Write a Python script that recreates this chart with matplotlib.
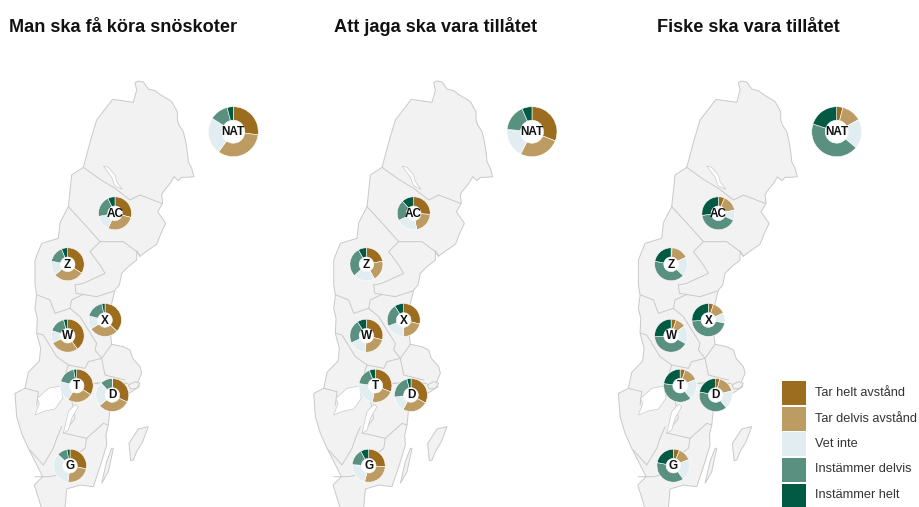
import numpy as np
import matplotlib
matplotlib.use('Agg')
import matplotlib.pyplot as plt
from matplotlib.patches import Polygon, Rectangle

plt.rcParams['font.family'] = ['Liberation Sans', 'DejaVu Sans']

titles = ['Man ska få köra snöskoter', 'Att jaga ska vara tillåtet', 'Fiske ska vara tillåtet']
title_x = [9, 334, 657]
categories = ['Tar helt avstånd', 'Tar delvis avstånd', 'Vet inte', 'Instämmer delvis', 'Instämmer helt']
colors = ['#9c6d1e', '#bd9c63', '#e2edf1', '#5a9080', '#035a44']
regions = ['NAT', 'AC', 'Z', 'X', 'W', 'T', 'D', 'G']

snoskoter = [[27, 33, 24, 12, 4], [29, 28, 15, 21, 7], [34, 30, 14, 16, 6], [37, 29, 13, 18, 3],
             [40, 28, 12, 16, 4], [34, 25, 20, 18, 3], [32, 32, 24, 12, 0], [28, 24, 35, 10, 3]]
jaga = [[31, 26.5, 19, 17, 6.5], [26, 21, 21, 20, 12], [22, 20, 21, 29, 8], [29, 21, 19, 22, 9],
        [29, 22, 17, 23, 9], [31, 22, 24, 17, 6], [33, 25, 15, 23, 4], [26, 28, 22, 16, 8]]
fiske = [[4, 13, 19, 44, 20], [6, 16, 10, 41, 27], [1, 17, 19, 41, 22], [5, 13, 10, 46, 26],
         [5, 10, 18, 41, 26], [5, 14, 20, 38, 23], [4, 17, 18, 39, 22], [6, 13, 21, 38, 22]]
panels = [snoskoter, jaga, fiske]

# donut centres in panel 1, image pixels
center_x = [233.3, 115, 67.7, 105, 67.7, 76.7, 112.3, 70]
center_y = [131.7, 213.3, 264.3, 320, 335.7, 385.7, 395, 465.7]
panel_dx = [0, 298.7, 603.4]

def t(pts):
    a = np.array(pts, float); return np.c_[a[:, 0] / 3, 60 + a[:, 1] / 3]
def b(pts):
    a = np.array(pts, float); return np.c_[a[:, 0] / 3, 285 + a[:, 1] / 3]

outline = np.vstack([
    t([(405,68),(415,63),(430,66),(445,87),(465,92),(482,105),(500,115),(515,125),(532,155),(532,180),
       (537,195),(550,215),(556,240),(560,262),(563,285),(565,305),(575,325),(582,350),(560,352),(545,352),
       (535,362),(522,350),(512,368),(490,395),(485,405),(488,430),(473,455),(497,490),(483,520),(470,553),
       (445,570),(420,588),(410,572),(410,600),(385,620),(365,640),(358,675)]),
    b([(345,15),(335,55),(335,85),(330,135),(335,178),(370,185),(390,195),(398,220),(420,245),(425,265),
       (412,295),(418,305),(395,320),(350,345),(330,370),(325,420),(318,450),(320,480),(305,530),(295,560),
       (280,605),(240,600),(200,612),(195,670),(125,670),(103,600),(128,575),(108,535),(85,490),(65,445),(50,395),
       (45,325),(75,310),(85,262),(118,228),(122,190),(110,145),(112,100),(105,70),(110,30)]),
    t([(105,675),(105,600),(125,550),(175,535),(180,488),(205,440),(215,345),(250,322),(272,240),(290,180),
       (338,118),(400,127),(410,90)]),
])
borders = [
    t([(250,322),(300,358),(345,385),(390,420),(420,405),(485,430)]),
    t([(205,440),(260,500),(300,545),(370,545),(410,575),(420,590)]),
    t([(300,545),(270,575),(300,615),(315,640),(250,670),(225,675)]),
    b([(225,0),(228,25),(290,35),(342,18)]),
    b([(112,30),(150,45),(165,85),(210,70),(215,45),(250,28)]),
    b([(210,70),(240,95),(290,175),(285,195),(305,220),(335,178)]),
    b([(112,145),(130,150),(170,215),(205,240),(255,250),(265,230),(305,220),(315,270),(375,285)]),
    b([(75,310),(115,320),(110,360)]),
    b([(205,240),(185,300)]),
    b([(185,425),(170,460),(160,490),(130,540),(90,495)]),
    b([(195,445),(260,460),(310,415),(325,420)]),
    b([(260,460),(255,490),(215,520),(220,560),(150,575),(105,575)]),
    b([(215,345),(225,400),(190,445)]),
]
lakes = [
    b([(105,390),(118,355),(112,340),(145,310),(182,303),(188,340),(165,372),(135,378)]),
    b([(190,445),(205,380),(225,358),(235,365),(215,400),(205,435)]),
    t([(310,318),(325,322),(345,345),(350,365),(367,388),(345,378),(335,352)]),
    b([(280,295),(330,290),(385,295),(330,300)]),
]
islands = [
    b([(392,527),(387,475),(415,432),(445,425),(428,470),(410,500),(400,525)]),
    b([(305,595),(320,530),(335,490),(340,490),(325,560)]),
    b([(385,300),(405,290),(420,295),(410,310),(392,312)]),
]

fig = plt.figure(figsize=(9.19, 5.07), dpi=100, facecolor='white')
ax = fig.add_axes([0, 0, 1, 1])
H = 507
flip = lambda p: np.c_[p[:, 0], H - p[:, 1]]
fill, edge = '#f2f2f2', '#c9c9c9'

for k, (vals, dx) in enumerate(zip(panels, panel_dx)):
    off = np.array([dx, 0])
    ax.add_patch(Polygon(flip(outline + off), fc=fill, ec=edge, lw=0.7, zorder=1))
    for isl in islands:
        ax.add_patch(Polygon(flip(isl + off), fc=fill, ec=edge, lw=0.7, zorder=1))
    for line in borders:
        p = flip(line + off)
        ax.plot(p[:, 0], p[:, 1], color=edge, lw=0.7, zorder=2)
    for lake in lakes:
        ax.add_patch(Polygon(flip(lake + off), fc='white', ec=edge, lw=0.5, zorder=3))
    ax.text(title_x[k], H - 27, titles[k], fontsize=13.1, fontweight='bold', color='#111111',
            ha='left', va='center')
    for name, v, cx, cy in zip(regions, vals, center_x, center_y):
        r, w = (25, 13.5) if name == 'NAT' else (16.5, 9.2)
        x, y = cx + dx, H - cy
        ws, _ = ax.pie(v, colors=colors, center=(x, y), radius=r, startangle=90, counterclock=False,
                       frame=True, wedgeprops=dict(width=w, edgecolor='white', linewidth=0.4))
        for wd in ws:
            wd.set_zorder(5)
        ax.add_patch(plt.Circle((x, y), r - w, fc='white', ec='none', zorder=4))
        ax.text(x, y - 0.5, name, fontsize=8.5, fontweight='bold', color='#111111',
                ha='center', va='center', zorder=6)

sw_y = [381, 406.5, 432, 457.5, 483.5]
for c, label, y in zip(colors, categories, sw_y):
    ax.add_patch(Rectangle((782.3, H - y - 24.2), 23.7, 24.2, fc=c, ec='none', zorder=3))
    ax.text(815, H - y - 12, label, fontsize=9.15, color='#333333', ha='left', va='center')

ax.set_xlim(0, 919)
ax.set_ylim(0, H)
ax.set_aspect('auto')
ax.axis('off')
fig.savefig('out.png', dpi=100, facecolor='white')
